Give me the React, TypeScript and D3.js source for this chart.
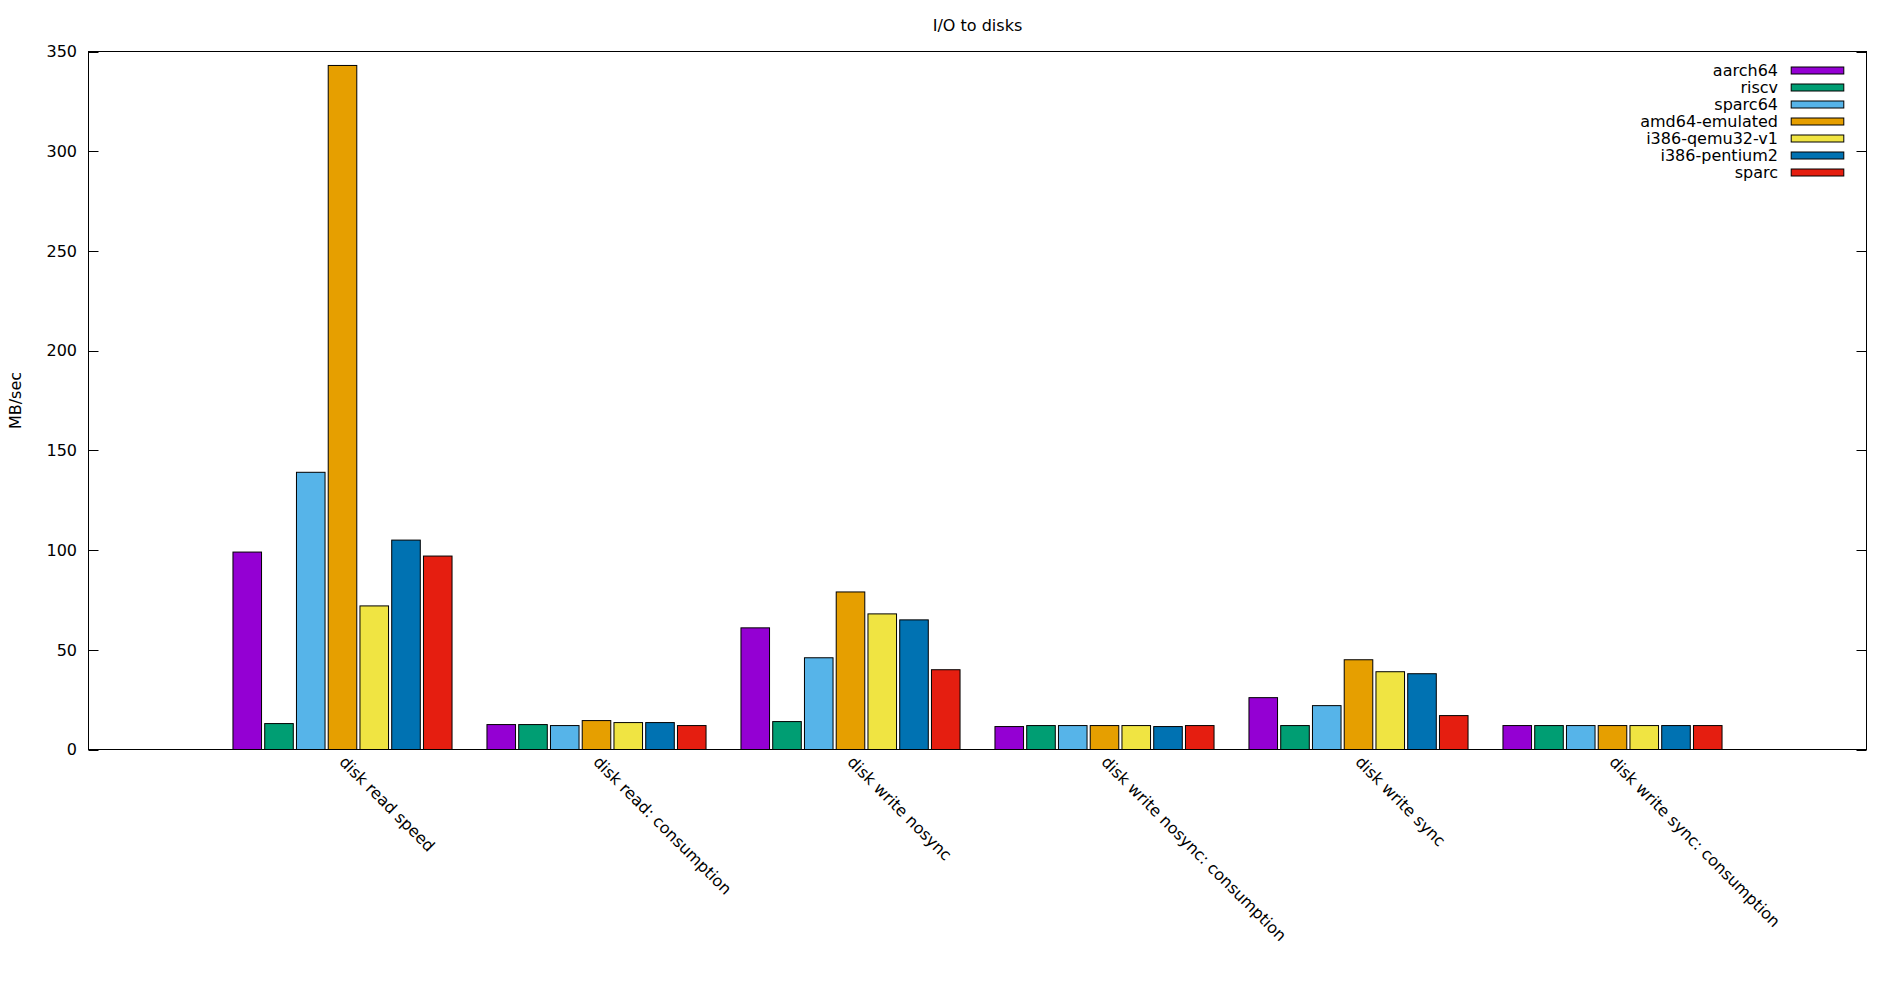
import React from "react";
import * as d3 from "d3";

const categories = [
  "disk read speed",
  "disk read: consumption",
  "disk write nosync",
  "disk write nosync: consumption",
  "disk write sync",
  "disk write sync: consumption",
];

const seriesNames = [
  "aarch64",
  "riscv",
  "sparc64",
  "amd64-emulated",
  "i386-qemu32-v1",
  "i386-pentium2",
  "sparc",
];

const seriesColors = ["#9400d3", "#009e73", "#56b4e9", "#e69f00", "#f0e442", "#0072b2", "#e51e10"];

const aarch64 = [99, 12.5, 61, 11.5, 26, 12];
const riscv = [13, 12.5, 14, 12, 12, 12];
const sparc64 = [139, 12, 46, 12, 22, 12];
const amd64Emulated = [343, 14.5, 79, 12, 45, 12];
const i386Qemu32 = [72, 13.5, 68, 12, 39, 12];
const i386Pentium2 = [105, 13.5, 65, 11.5, 38, 12];
const sparc = [97, 12, 40, 12, 17, 12];

const seriesValues = [aarch64, riscv, sparc64, amd64Emulated, i386Qemu32, i386Pentium2, sparc];

const yTicks = [0, 50, 100, 150, 200, 250, 300, 350];

const FONT = "'DejaVu Sans', sans-serif";
const FS = 16;

export default function App() {
  const left = 88.5;
  const right = 1866.5;
  const top = 51.5;
  const bottom = 749.5;

  const x = d3.scaleLinear().domain([-1, 6]).range([left, right]);
  const y = d3.scaleLinear().domain([0, 350]).range([bottom, top]);

  const nS = seriesNames.length;
  const slot = (x(1) - x(0)) / (nS + 1);
  const barW = slot * 0.9;

  return (
    <svg
      width={1900}
      height={1000}
      style={{ position: "absolute", left: 0, top: 0, background: "#fff" }}
      fontFamily={FONT}
      fontSize={FS}
    >
      <rect x={0} y={0} width={1900} height={1000} fill="#fff" />
      {/* title */}
      <text x={(left + right) / 2} y={31} textAnchor="middle" fill="#000">
        I/O to disks
      </text>
      {/* y label */}
      <text
        transform={`translate(15.5,${(top + bottom) / 2}) rotate(-90)`}
        textAnchor="middle"
        fill="#000"
        dy="0.35em"
      >
        MB/sec
      </text>

      {/* bars */}
      {categories.map((c, ci) =>
        seriesValues.map((vals, si) => {
          const cx = x(ci) + (si - (nS - 1) / 2) * slot;
          const v = vals[ci];
          return (
            <rect
              key={`${ci}-${si}`}
              x={cx - barW / 2}
              y={y(v)}
              width={barW}
              height={y(0) - y(v)}
              fill={seriesColors[si]}
              stroke="#000"
              strokeWidth={1}
            />
          );
        })
      )}

      {/* y ticks */}
      {yTicks.map((t) => (
        <g key={t}>
          <line x1={left} x2={left + 10} y1={Math.round(y(t)) + 0.5} y2={Math.round(y(t)) + 0.5} stroke="#000" />
          <line x1={right - 10} x2={right} y1={Math.round(y(t)) + 0.5} y2={Math.round(y(t)) + 0.5} stroke="#000" />
          <text x={77} y={y(t)} dy="0.36em" textAnchor="end" fill="#000">
            {t}
          </text>
        </g>
      ))}

      {/* x labels */}
      {categories.map((c, ci) => (
        <text
          key={c}
          transform={`translate(${x(ci)},759) rotate(45)`}
          dy="0.36em"
          textAnchor="start"
          fill="#000"
        >
          {c}
        </text>
      ))}

      {/* frame */}
      <rect x={left} y={top} width={right - left} height={bottom - top} fill="none" stroke="#000" strokeWidth={1} />

      {/* legend */}
      {seriesNames.map((s, si) => {
        const cy = 70.5 + si * 17;
        return (
          <g key={s}>
            <text x={1778} y={cy} dy="0.36em" textAnchor="end" fill="#000">
              {s}
            </text>
            <rect x={1791.2} y={cy - 3.5} width={52.6} height={7} fill={seriesColors[si]} stroke="#000" strokeWidth={1} />
          </g>
        );
      })}
    </svg>
  );
}
